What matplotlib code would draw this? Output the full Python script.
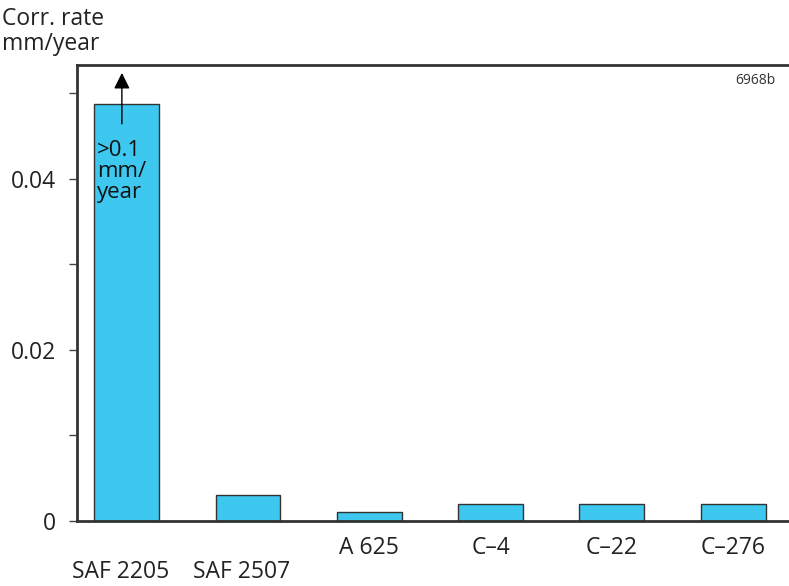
import matplotlib.pyplot as plt
import numpy as np

plt.rcParams['font.family'] = ['Open Sans', 'DejaVu Sans']

alloys = ["SAF 2205", "SAF 2507", "A 625", "C\u20134", "C\u201322", "C\u2013276"]
rates = [0.0487, 0.003, 0.001, 0.002, 0.002, 0.002]
low_label = [True, True, False, False, False, False]

fig = plt.figure(figsize=(7.89, 5.86), dpi=100)
ax = fig.add_axes([77/789, 1 - 521/586, 1 - 77/789, (521 - 65)/586])

x = np.arange(len(alloys))
ax.bar(x, rates, width=0.535, color="#3ec8f0", edgecolor="#333333", linewidth=1)

ax.set_xlim(-0.41, 5.46)
ax.set_ylim(0, 0.0533)
ax.set_yticks([0, 0.02, 0.04])
ax.set_yticklabels(["0", "0.02", "0.04"])
ax.set_yticks([0.01, 0.03, 0.05], minor=True)
ax.tick_params(axis="y", which="both", direction="out", length=6, width=1,
               labelsize=16.5, pad=9, color="#444444", labelcolor="#222222")
ax.set_xticks([])
ax.spines["right"].set_visible(False)
for s in ["left", "top", "bottom"]:
    ax.spines[s].set_linewidth(2)
    ax.spines[s].set_color("#333333")

for i, (name, low) in enumerate(zip(alloys, low_label)):
    ax.annotate(name, (i, 0), xycoords=("data", "axes fraction"),
                xytext=(-6 if low else 0, -51 if low else -27),
                textcoords="offset pixels",
                ha="center", va="center", fontsize=16.5, color="#222222")

ax.annotate("", xy=(-0.04, 0.0527), xytext=(-0.04, 0.0461),
            arrowprops=dict(arrowstyle="-|>", color="black", lw=1,
                            mutation_scale=24))
ax.text(-0.245, 0.0445, ">0.1\nmm/\nyear", ha="left", va="top", fontsize=16,
        linespacing=1.0, color="#111111")

fig.text(2/789, 1 - 7/586, "Corr. rate\nmm/year", ha="left", va="top",
         fontsize=16.5, linespacing=1.05, color="#222222")
fig.text(776/789, 1 - 80/586, "6968b", ha="right", va="center",
         fontsize=10, color="#333333")

fig.savefig("out.png", dpi=100)
